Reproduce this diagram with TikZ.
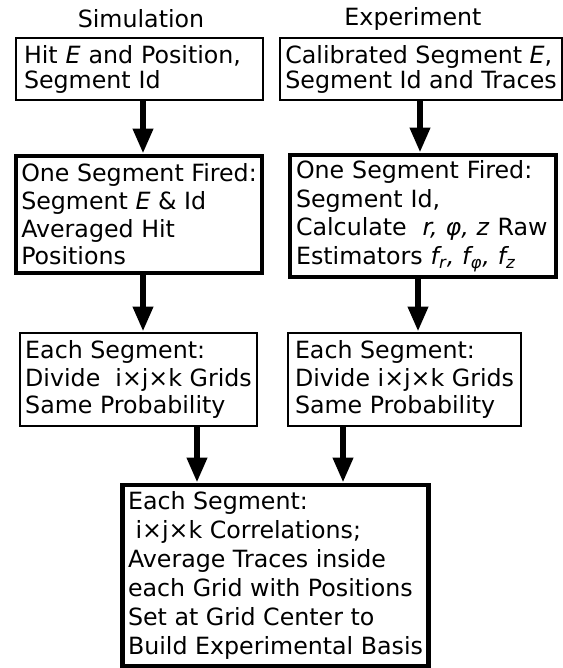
\documentclass[tikz,border=0pt]{standalone}
\usepackage{fontspec}
\setmainfont{DejaVu Sans}
\usetikzlibrary{arrows.meta}

\begin{document}
\begin{tikzpicture}[x=0.02cm, y=-0.02cm,
		font=\fontsize{13.5}{14.2}\selectfont,
		box/.style={draw, line width=1.5pt, align=left, inner xsep=3pt, inner ysep=0pt},
		thickbox/.style={box, line width=2.6pt},
		flow/.style={line width=3.6pt, -{Triangle[width=0.38cm, length=0.5cm]}}]
		\useasboundingbox (0,0) rectangle (563,668);

		% Titles
		\node (simtitle) at (141,19) {Simulation};
		\node (exptitle) at (413,19) {Experiment};

		% Left column: simulation
		\node[box, inner xsep=0.16cm, text width=4.62cm, minimum height=1.24cm] (simhit) at (139.5,69)
			{Hit \textit{E} and Position,\\Segment Id};
		\node[thickbox, minimum width=4.92cm, minimum height=2.34cm,
			font=\fontsize{13.5}{15.7}\selectfont] (simfire) at (139,214.5)
			{One Segment Fired:\\Segment \textit{E} \& Id\\Averaged Hit\\Positions};
		\node[box, minimum width=4.7cm, minimum height=1.86cm,
			font=\fontsize{13.5}{15.4}\selectfont] (simgrid) at (138.5,379.5)
			{Each Segment:\\Divide\ \ i×j×k Grids\\Same Probability};

		% Right column: experiment
		\node[box, minimum width=5.56cm, minimum height=1.24cm] (exphit) at (421,69)
			{Calibrated Segment \textit{E},\\Segment Id and Traces};
		\node[thickbox, inner xsep=0.12cm, text width=5.08cm, minimum height=2.44cm,
			font=\fontsize{13.5}{16.3}\selectfont] (expfire) at (423,216)
			{One Segment Fired:\\Segment Id,\\Calculate\ \ \textit{r, φ, z} Raw\\Estimators \textit{f\textsubscript{r}, f\textsubscript{φ}, f\textsubscript{z}}};
		\node[box, minimum width=4.66cm, minimum height=1.86cm,
			font=\fontsize{13.5}{15.4}\selectfont] (expgrid) at (404.5,379.5)
			{Each Segment:\\Divide i×j×k Grids\\Same Probability};

		% Joint basis
		\node[thickbox, minimum width=6.1cm, minimum height=3.62cm,
			font=\fontsize{13.5}{16.6}\selectfont] (basis) at (275.5,575.5)
			{Each Segment:\\\hspace*{0.32em}i×j×k Correlations;\\Average Traces inside\\each Grid with Positions\\Set at Grid Center to\\Build Experimental Basis};

		% Arrows
		\draw[flow] ([xshift=0.07cm]simhit.south) -- ([xshift=0.07cm]simhit.south |- simfire.north);
		\draw[flow] ([xshift=0.08cm]simfire.south) -- ([xshift=0.08cm]simfire.south |- simgrid.north);
		\draw[flow] ([xshift=-0.02cm]exphit.south) -- ([xshift=-0.02cm]exphit.south |- expfire.north);
		\draw[flow] ([xshift=-0.1cm]expfire.south) -- ([xshift=-0.1cm]expfire.south |- expgrid.north);
		\draw[flow] ([xshift=1.17cm]simgrid.south) -- ([xshift=1.17cm]simgrid.south |- basis.north);
		\draw[flow] ([xshift=-1.23cm]expgrid.south) -- ([xshift=-1.23cm]expgrid.south |- basis.north);
	\end{tikzpicture}
\end{document}
